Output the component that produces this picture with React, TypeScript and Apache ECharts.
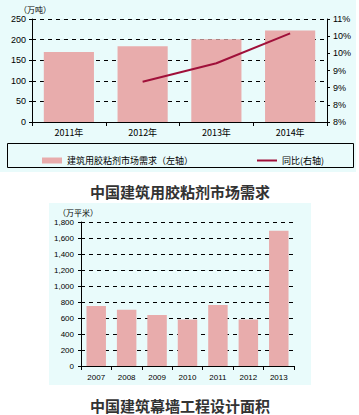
import React, { useEffect, useRef } from "react";
import * as echarts from "echarts";

const topCategories = ["2011年", "2012年", "2013年", "2014年"];
const demandValues = [170, 184, 201, 222];
const yoyValues: (number | null)[] = [null, 9.17, 9.71, 10.58];

const bottomCategories = ["2007", "2008", "2009", "2010", "2011", "2012", "2013"];
const areaValues = [750, 703, 638, 582, 762, 582, 1692];

const barName = "建筑用胶粘剂市场需求（左轴）";
const lineName = "同比(右轴)";

const BAR = "#e8acac";
const LINE = "#a0103a";
const BG = "#e9fbfb";
const FONT = "Liberation Sans, Arial, sans-serif";
const CJK = "Noto Sans CJK SC, sans-serif";

export default function App() {
  const ref = useRef<HTMLDivElement>(null);
  useEffect(() => {
    if (!ref.current) return;
    const chart = echarts.init(ref.current, undefined, { renderer: "svg" });
    const axisLabel = { color: "#000", fontSize: 9, fontFamily: FONT };
    const split = { show: true, lineStyle: { color: "#000", type: [4, 4] as any, width: 1 } };
    chart.setOption({
      animation: false,
      backgroundColor: "#fff",
      grid: [
        { left: 32, right: 32, top: 19, bottom: 293 },
        { left: 81, right: 65, top: 222, bottom: 49 },
      ],
      legend: [
        {
          data: [barName],
          left: 37,
          top: 151,
          icon: "rect",
          itemWidth: 20,
          itemHeight: 6,
          itemGap: 4,
          textStyle: { fontSize: 9, color: "#000", fontFamily: CJK },
          selectedMode: false,
        },
        {
          data: [lineName],
          left: 252,
          top: 151,
          icon: "rect",
          itemWidth: 20,
          itemHeight: 2,
          itemGap: 4,
          textStyle: { fontSize: 9, color: "#000", fontFamily: CJK },
          selectedMode: false,
        },
      ],
      xAxis: [
        {
          type: "category",
          gridIndex: 0,
          data: topCategories,
          axisLine: { lineStyle: { color: "#000" } },
          axisTick: { show: true, length: 4, lineStyle: { color: "#000" } },
          axisLabel: { ...axisLabel, fontFamily: CJK, margin: 6 },
        },
        {
          type: "category",
          gridIndex: 1,
          data: bottomCategories,
          axisLine: { lineStyle: { color: "#000" } },
          axisTick: { show: true, length: 4, lineStyle: { color: "#000" } },
          axisLabel: { ...axisLabel, fontSize: 8, margin: 7 },
        },
      ],
      yAxis: [
        {
          type: "value",
          gridIndex: 0,
          min: 0,
          max: 250,
          interval: 50,
          axisLine: { show: true, lineStyle: { color: "#000" } },
          axisTick: { show: true, length: 3, lineStyle: { color: "#000" } },
          axisLabel: { ...axisLabel, margin: 6 },
          splitLine: split,
        },
        {
          type: "value",
          gridIndex: 0,
          position: "right",
          min: 8,
          max: 11,
          interval: 0.5,
          axisLine: { show: true, lineStyle: { color: "#000" } },
          axisTick: { show: true, length: 3, lineStyle: { color: "#000" } },
          axisLabel: { ...axisLabel, margin: 6, formatter: (v: number) => Math.floor(v + 1e-9) + "%" },
          splitLine: { show: false },
        },
        {
          type: "value",
          gridIndex: 1,
          min: 0,
          max: 1800,
          interval: 200,
          axisLine: { show: true, lineStyle: { color: "#000" } },
          axisTick: { show: true, length: 3, lineStyle: { color: "#000" } },
          axisLabel: {
            ...axisLabel,
            fontSize: 8,
            margin: 7,
            formatter: (v: number) => v.toLocaleString("en-US"),
          },
          splitLine: split,
        },
      ],
      series: [
        {
          name: barName,
          type: "bar",
          xAxisIndex: 0,
          yAxisIndex: 0,
          data: demandValues,
          barWidth: "68%",
          itemStyle: { color: BAR },
          z: 3,
        },
        {
          name: lineName,
          type: "line",
          xAxisIndex: 0,
          yAxisIndex: 1,
          data: yoyValues,
          symbol: "none",
          lineStyle: { color: LINE, width: 2 },
          itemStyle: { color: LINE },
          z: 4,
        },
        {
          name: "幕墙设计面积",
          type: "bar",
          xAxisIndex: 1,
          yAxisIndex: 2,
          data: areaValues,
          barWidth: "64%",
          itemStyle: { color: BAR },
          z: 3,
        },
      ],
      graphic: [
        { type: "rect", z: -10, shape: { x: 0, y: 0, width: 356, height: 172 }, style: { fill: BG } },
        { type: "rect", z: -10, shape: { x: 49, y: 203, width: 262, height: 182 }, style: { fill: BG } },
        {
          type: "rect",
          z: 1,
          shape: { x: 7.5, y: 143.5, width: 346, height: 24 },
          style: { fill: "none", stroke: "#000", lineWidth: 1 },
        },
        {
          type: "text",
          x: 19,
          y: 5,
          style: { text: "（万吨）", fontSize: 8, fill: "#000", fontFamily: CJK },
        },
        {
          type: "text",
          x: 58,
          y: 208,
          style: { text: "（万平米）", fontSize: 8, fill: "#000", fontFamily: CJK },
        },
        {
          type: "text",
          x: 180,
          y: 191,
          style: {
            text: "中国建筑用胶粘剂市场需求",
            fontSize: 15,
            fontWeight: "bold",
            fill: "#333",
            fontFamily: CJK,
            align: "center",
            verticalAlign: "middle",
          },
        },
        {
          type: "text",
          x: 180,
          y: 405,
          style: {
            text: "中国建筑幕墙工程设计面积",
            fontSize: 15,
            fontWeight: "bold",
            fill: "#333",
            fontFamily: CJK,
            align: "center",
            verticalAlign: "middle",
          },
        },
      ],
    });
    return () => chart.dispose();
  }, []);
  return (
    <div
      ref={ref}
      style={{ position: "absolute", left: 0, top: 0, width: 359, height: 415 }}
    />
  );
}
